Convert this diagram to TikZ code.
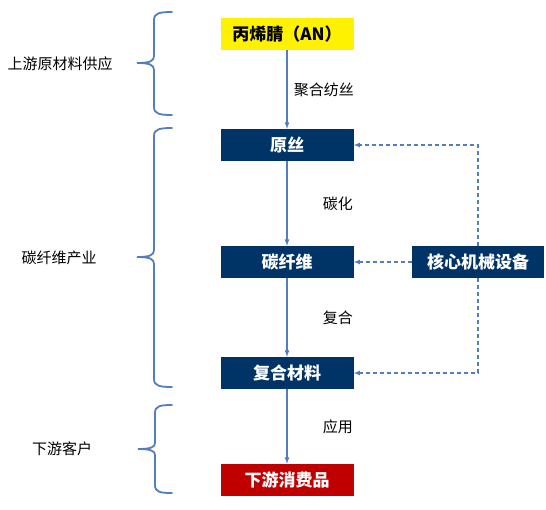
\documentclass[tikz,border=0pt]{standalone}
\usepackage{fontspec}
\setmainfont{Noto Sans CJK SC}
\usepackage{tikz}
\usetikzlibrary{arrows, positioning}
\definecolor{navy}{RGB}{0,51,102}
\definecolor{deepred}{RGB}{192,0,0}
\definecolor{lineblue}{RGB}{84,125,190}
\begin{document}
\begin{tikzpicture}[
    x=1pt, y=-1pt,
    box/.style={rectangle, fill=navy, text=white, font=\fontsize{17}{19}\selectfont\bfseries, text centered, minimum width=133pt, minimum height=32pt},
    rawbox/.style={box, fill=yellow, text=black},
    endbox/.style={box, fill=deepred},
    lbl/.style={font=\fontsize{15}{17}\selectfont, text=black},
    arrow/.style={-latex, draw=lineblue, line width=1.2pt},
    dasharrow/.style={-latex, draw=lineblue, line width=1.1pt, dash pattern=on 4pt off 3pt},
    brace/.style={draw=lineblue, line width=1.8pt, line cap=round}
]
\useasboundingbox (0,0) rectangle (546,509);

% Main chain
\node[rawbox] (an) at (287,34) {丙烯腈（AN）};
\node[box] (precursor) at (287,145) {原丝};
\node[box] (fiber) at (287,262) {碳纤维};
\node[box] (composite) at (287,373) {复合材料};
\node[endbox] (consumer) at (287,480) {下游消费品};

% Equipment
\node[box, minimum width=132pt] (equip) at (478,262) {核心机械设备};

% Connections
\draw[arrow] (an) -- (precursor) node[midway, right, xshift=3pt] (spin) [lbl] {聚合纺丝};
\draw[arrow] (precursor) -- (fiber) node[midway, right, xshift=32pt] (carbon) [lbl] {碳化};
\draw[arrow] (fiber) -- (composite) node[midway, right, xshift=32pt] (mix) [lbl] {复合};
\draw[arrow] (composite) -- (consumer) node[midway, right, xshift=32pt] (use) [lbl] {应用};

\draw[dasharrow] (equip) -- (fiber);
\draw[dasharrow] (equip.north) |- (precursor.east);
\draw[dasharrow] (equip.south) |- (composite.east);

% Braces
\draw[brace] (172,12) .. controls (160,12) and (154,13) .. (154,20) -- (154,56)
    .. controls (154,61) and (150,63) .. (137,63)
    .. controls (150,63) and (154,65) .. (154,70) -- (154,107)
    .. controls (154,114) and (160,115) .. (172,115);
\draw[brace] (172,128) .. controls (160,128) and (154,129) .. (154,136) -- (154,250)
    .. controls (154,255) and (150,257) .. (137,257)
    .. controls (150,257) and (154,259) .. (154,264) -- (154,379)
    .. controls (154,386) and (160,387) .. (172,387);
\draw[brace] (172,405) .. controls (160,405) and (155,406) .. (155,413) -- (155,443)
    .. controls (155,447) and (151,449) .. (138,449)
    .. controls (151,449) and (155,451) .. (155,455) -- (155,485)
    .. controls (155,492) and (160,493) .. (172,493);

% Stage labels
\node[lbl] (upstream) at (60,64) {上游原材料供应};
\node[lbl] (industry) at (59,258) {碳纤维产业};
\node[lbl] (downstream) at (62,449) {下游客户};

\end{tikzpicture}
\end{document}
